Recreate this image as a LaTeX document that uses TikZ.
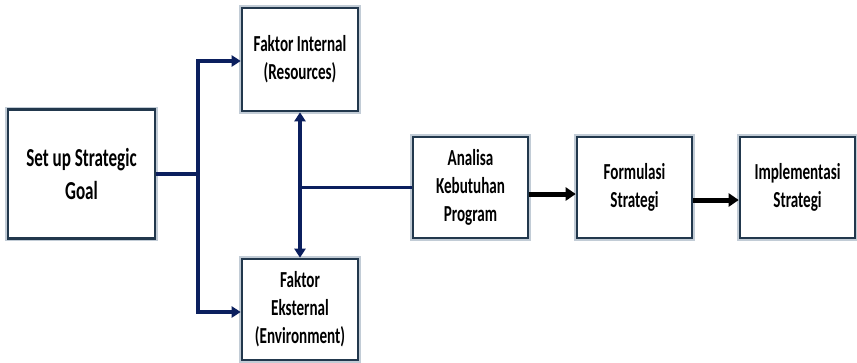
\documentclass[tikz,border=0pt]{standalone}
\usepackage{fontspec}
\newfontfamily\boxfont[FakeStretch=0.66]{Carlito}
\usetikzlibrary{arrows.meta}
\definecolor{edge}{HTML}{22384D}
\definecolor{glow}{HTML}{9AAABA}
\definecolor{navy}{HTML}{0B1F5E}
\begin{document}
\begin{tikzpicture}[x=1bp,y=-1bp,
  box/.style={draw=edge, line width=2.6bp, fill=white, align=center, inner sep=0pt,
    preaction={draw=glow, line width=5.5bp, opacity=0.6},
    font=\boxfont\bfseries\fontsize{23}{28}\selectfont},
  link/.style={draw=navy, line width=3.2bp, line join=miter},
  ntip/.style={-{Triangle[length=9bp,width=11bp]}},
  flow/.style={draw=black, line width=5bp, -{Triangle[length=10bp,width=13bp]}}
]
\useasboundingbox (0,0) rectangle (857,362);

% process boxes
\node[box, minimum width=147bp, minimum height=129bp,
      font=\boxfont\bfseries\fontsize{26}{33}\selectfont] (goal) at (81.5,174) {Set up Strategic\\Goal};
\node[box, minimum width=116bp, minimum height=103bp] (int) at (300,59.5) {Faktor Internal\\(Resources)};
\node[box, minimum width=116bp, minimum height=101bp] (ext) at (300,309.5) {Faktor\\Eksternal\\(Environment)};
\node[box, minimum width=115bp, minimum height=101bp] (ana) at (470.5,187.5) {Analisa\\Kebutuhan\\Program};
\node[box, minimum width=115bp, minimum height=101bp] (form) at (634.5,187.5) {Formulasi\\Strategi};
\node[box, minimum width=115bp, minimum height=101bp] (impl) at (797.5,187.5) {Implementasi\\Strategi};

% branch points of the left fork
\coordinate (ta) at (198,61);
\coordinate (tb) at (198,312);

% fork from the goal to both factors
\draw[link, ntip] (goal.east) -| (ta) -- (ta -| int.west);
\draw[link, ntip] (goal.east) -| (tb) -- (tb -| ext.west);

% link between the factors and into the analysis
\draw[link, {Triangle[length=9bp,width=11bp]}-{Triangle[length=9bp,width=11bp]}] (int.south) -- (ext.north);
\draw[link] (int.south |- ana.west) -- (ana.west);

% main flow
\draw[flow] ([yshift=-6.5bp]ana.east) -- ([yshift=-6.5bp]form.west);
\draw[flow] ([yshift=-12.5bp]form.east) -- ([yshift=-12.5bp]impl.west);
\end{tikzpicture}
\end{document}
